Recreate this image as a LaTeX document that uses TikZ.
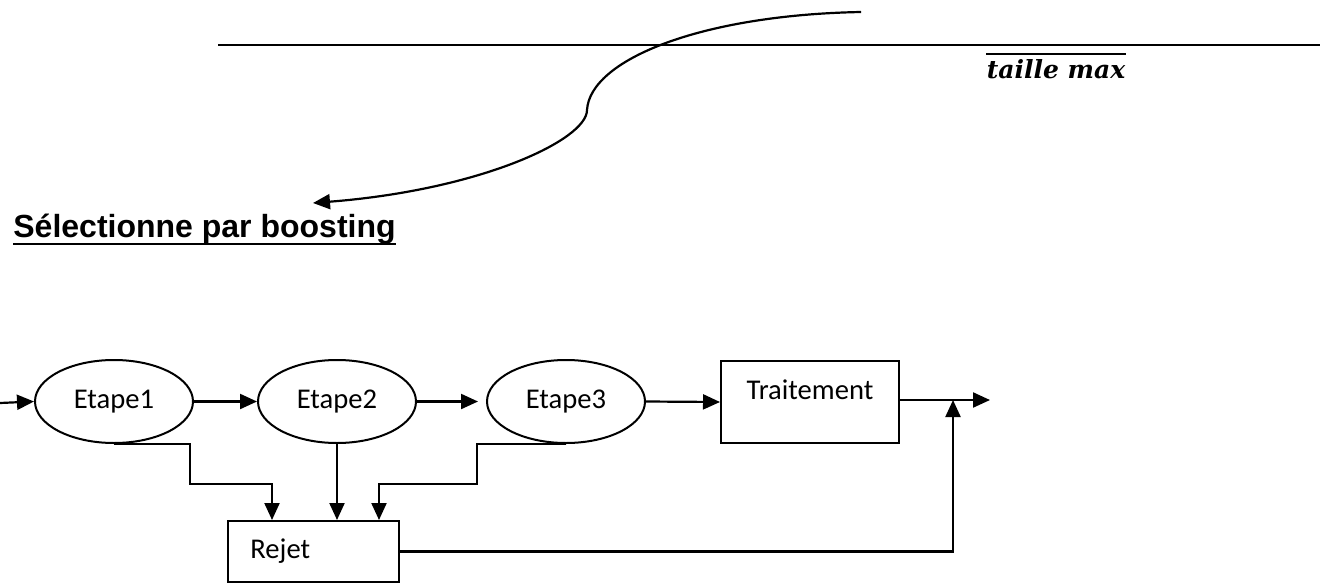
\documentclass[tikz,border=0pt]{standalone}
\usepackage{fontspec}
\usetikzlibrary{arrows.meta,shapes.geometric}
\newfontfamily\etapefont{Carlito}
\newfontfamily\titrefont{Liberation Sans}
\newfontfamily\maxfont{DejaVu Serif}

\tikzset{
  texte/.style={font=\etapefont\fontsize{14.3}{16}\selectfont},
  etape/.style={draw, ellipse, line width=1pt, minimum width=79pt, minimum height=41.5pt, inner sep=0pt, texte},
  bloc/.style={draw, rectangle, line width=1pt, inner sep=0pt},
  fleche/.style={-{Triangle[length=8.5pt,width=7.5pt]}, line width=1.1pt},
}

\begin{document}
\begin{tikzpicture}[x=0.5pt,y=-0.5pt]
        \useasboundingbox (0,0) rectangle (1320,583);

        % Top line and curved arrow
        \coordinate (lg) at (218,45);
        \coordinate (ld) at (1320,45);
        \draw[line width=0.9pt] (lg) -- (ld);
        \node[inner sep=0pt, font=\maxfont\bfseries\itshape\fontsize{12.5}{14}\selectfont] (tmax) at (1056,69) {taille max};
        \draw[line width=1.1pt] ([yshift=2.5pt]tmax.north west) -- ([yshift=2.5pt]tmax.north east);

        \coordinate (cdeb) at (861,12);
        \coordinate (cmil) at (587,110);
        \coordinate (cfin) at (313,203);
        \draw[fleche] (cdeb) .. controls (700,15) and (590,60) .. (cmil)
              .. controls (587,140) and (480,190) .. (cfin);

        % Title
        \node[inner sep=0pt, anchor=base west, font=\titrefont\bfseries\fontsize{16}{19}\selectfont] (titre) at (13,237) {Sélectionne par boosting};
        \draw[line width=1.4pt] ([yshift=-3.5pt]titre.base west) -- ([yshift=-3.5pt]titre.base east);

        % Stages
        \node[etape] (e1) at (114,401.5) {Etape1};
        \node[etape] (e2) at (337,401.5) {Etape2};
        \node[etape] (e3) at (566,401.5) {Etape3};
        \node[bloc, minimum width=89pt, minimum height=41pt,
              label={[texte, yshift=6pt]center:Traitement}] (trait) at (810,402) {};
        \node[bloc, minimum width=85.5pt, minimum height=30.5pt,
              label={[texte, inner sep=0pt, anchor=west, xshift=11.5pt]west:Rejet}] (rej) at (313.5,551.5) {};

        % Main flow
        \coordinate (entree) at (0,403);
        \coordinate (sortie) at (990,400);
        \coordinate (retour) at (953,400);
        \draw[fleche] (entree) -- (e1.west);
        \draw[fleche] (e1.east) -- (e2.west);
        \draw[fleche, shorten >=4pt] (e2.east) -- (e3.west);
        \draw[fleche] (e3.east) -- (trait.west);
        \draw[fleche] (trait.east |- sortie) -- (sortie);

        % Rejections
        \draw[fleche] (e1.south) -| (190,484) -| ([xshift=-20.75pt]rej.north);
        \draw[fleche] (e2.south) -- (e2.south |- rej.north);
        \draw[fleche] (e3.south) -| (477,484) -| ([xshift=32.75pt]rej.north);
        \draw[fleche] (rej.east) -| (retour);
\end{tikzpicture}
\end{document}
